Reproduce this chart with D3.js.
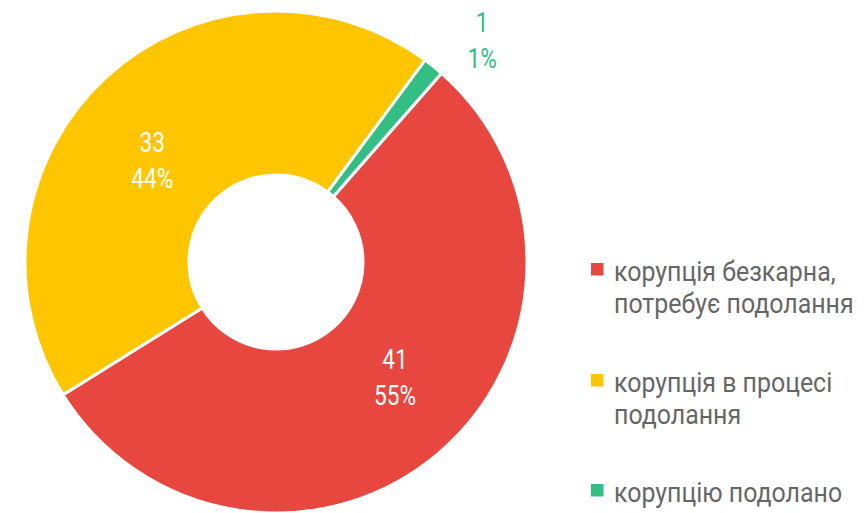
<!DOCTYPE html>
<html>
<head>
<meta charset="utf-8">
<script src="https://cdn.jsdelivr.net/npm/d3@7"></script>
<style>
  html, body { margin: 0; padding: 0; background: #fff; }
  svg { display: block; font-family: Roboto, sans-serif; }
</style>
</head>
<body>
<svg id="chart" width="866" height="513"></svg>
<script>
// data
const categories = ['корупція безкарна, потребує подолання', 'корупція в процесі подолання', 'корупцію подолано'];
const legendLines = [['корупція безкарна,', 'потребує подолання'], ['корупція в процесі', 'подолання'], ['корупцію подолано']];
const values = [41, 33, 1];
const percents = ['55%', '44%', '1%'];
const colors = ['#E8473F', '#FFC600', '#33BF83'];

const WIDTH = 866;
const HEIGHT = 513;
const CX = 276;
const CY = 262;
const OUTER = 251;
const INNER = 87;
const START = 0.72;

// the reference font is a narrow one, so text is squeezed sideways
const LABEL_SQUEEZE = 0.81;
const LEGEND_SQUEEZE = 0.89;

const svg = d3.select('#chart');

const pie = d3.pie()
    .sort(null)
    .value(d => d)
    .startAngle(START)
    .endAngle(START + 2 * Math.PI);

const arcs = pie(values);

const arc = d3.arc().innerRadius(INNER).outerRadius(OUTER);

const g = svg.append('g').attr('transform', `translate(${CX},${CY})`);

g.selectAll('path')
    .data(arcs)
    .join('path')
    .attr('d', arc)
    .attr('fill', (d, i) => colors[i])
    .attr('stroke', '#fff')
    .attr('stroke-width', 3);

// where a slice label sits: inside for big slices, outside for the tiny one
const labelPos = (d, i) => {
    const outside = values[i] < 5;
    const mid = (d.startAngle + d.endAngle) / 2 + (outside ? 0.07 : -0.115);
    const r = outside ? 303 : 163;
    return [r * Math.sin(mid), -r * Math.cos(mid) + (outside ? 0 : 4)];
};

const labels = g.selectAll('text.lbl')
    .data(arcs)
    .join('text')
    .attr('class', 'lbl')
    .attr('text-anchor', 'middle')
    .attr('font-size', 28)
    .attr('fill', (d, i) => values[i] < 5 ? colors[i] : '#fff')
    .attr('transform', (d, i) => {
        const [x, y] = labelPos(d, i);
        return `translate(${x},${y}) scale(${LABEL_SQUEEZE},1)`;
    });

labels.append('tspan')
    .attr('x', 0)
    .attr('dy', -8)
    .text((d, i) => values[i]);
labels.append('tspan')
    .attr('x', 0)
    .attr('dy', 36)
    .text((d, i) => percents[i]);

// legend
const legendY = [281, 392, 502];
const legend = svg.append('g').attr('class', 'legend');

legend.selectAll('rect')
    .data(categories)
    .join('rect')
    .attr('x', 591)
    .attr('y', (d, i) => legendY[i] - 18)
    .attr('width', 12.5)
    .attr('height', 12.5)
    .attr('fill', (d, i) => colors[i]);

const lt = legend.selectAll('text')
    .data(legendLines)
    .join('text')
    .attr('transform', (d, i) => `translate(614,${legendY[i]}) scale(${LEGEND_SQUEEZE},1)`)
    .attr('font-size', 28)
    .attr('fill', '#666');

lt.selectAll('tspan')
    .data(d => d)
    .join('tspan')
    .attr('x', 0)
    .attr('dy', (d, i) => i === 0 ? 0 : 32)
    .text(d => d);
</script>
</body>
</html>
